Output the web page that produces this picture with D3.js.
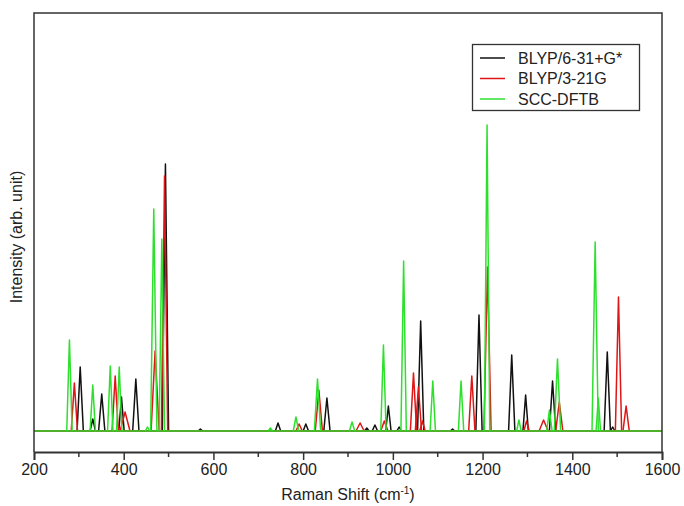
<!DOCTYPE html>
<head>
    <title>Raman spectra</title>
    <style>
        body {
            margin: 0;
            background: #fff;
        }

        text {
            font-family: 'Liberation Sans', Arial, sans-serif;
            fill: #222;
        }

        .frame {
            fill: none;
            stroke: #333;
            stroke-width: 1.5px;
        }

        .peak,
        .base {
            fill: none;
            stroke-width: 1.5px;
            stroke-linejoin: round;
        }
    </style>
    <script src="https://d3js.org/d3.v7.min.js"></script>
</head>

<body>
    <script type="text/javascript">
        "use strict";
        // peaks: [shift cm-1, intensity, half width cm-1]
        const blypLarge = [
            [303, 64, 7], [331, 12, 6], [351, 37, 7], [395, 34, 6], [427, 52, 7],
            [493, 267, 7], [571, 2, 5], [744, 8, 6], [806, 7, 6], [853, 33, 7],
            [942, 3, 5], [960, 6, 6], [990, 25, 6], [1014, 4, 5], [1062, 110, 7],
            [1133, 2, 5], [1192, 116, 7], [1265, 76, 7], [1296, 36, 6],
            [1356, 50, 7], [1478, 79, 7], [1490, 4, 5]
        ];
        const blypSmall = [
            [290, 48, 7], [381, 55, 7], [403, 19, 11], [470, 80, 9], [491, 255, 7],
            [791, 7, 7], [835, 41, 8], [927, 8, 9], [981, 10, 8], [1046, 58, 7],
            [1057, 44, 7], [1066, 10, 6], [1176, 55, 7], [1211, 164, 8],
            [1298, 10, 6], [1336, 11, 10], [1371, 29, 8], [1503, 134, 7], [1520, 25, 7]
        ];
        const sccDftb = [
            [279, 91, 6], [331, 46, 6], [370, 65, 6], [390, 64, 6], [453, 4, 5],
            [467, 222, 7], [485, 192, 6], [727, 3, 5], [784, 14, 6], [832, 52, 7],
            [909, 9, 6], [979, 86, 6], [1024, 170, 6], [1089, 50, 6], [1152, 50, 6],
            [1210, 306, 6], [1281, 11, 5], [1349, 21, 6], [1367, 72, 7],
            [1451, 189, 7], [1458, 33, 5]
        ];
        const seriesNames = ["BLYP/6-31+G*", "BLYP/3-21G", "SCC-DFTB"];
        const seriesColors = ["#111111", "#e01515", "#2ee02e"];
        const xTicks = [200, 400, 600, 800, 1000, 1200, 1400, 1600];
        const xMinorTicks = [300, 500, 700, 900, 1100, 1300, 1500];

        const width = 684, height = 506;
        const plot = { left: 34, right: 662, top: 13, bottom: 452 };

        const x = d3.scaleLinear().domain([200, 1600]).range([plot.left, plot.right]);
        const y = d3.scaleLinear().domain([-21, 418]).range([plot.bottom, plot.top]);

        const svg = d3.select("body").append("svg")
            .attr("width", width)
            .attr("height", height);

        const line = d3.line()
            .x(function (d) { return x(d[0]); })
            .y(function (d) { return y(d[1]); });

        [blypLarge, blypSmall, sccDftb].forEach(function (peaks, i) {
            var g = svg.append("g").style("stroke", seriesColors[i]);
            g.append("path")
                .attr("class", "base")
                .attr("d", line([[200, 0], [1600, 0]]));
            g.selectAll(".peak")
                .data(peaks)
                .enter().append("path")
                .attr("class", "peak")
                .attr("d", function (d) {
                    return line([[d[0] - d[2], 0], [d[0], d[1]], [d[0] + d[2], 0]]);
                });
        });

        // frame: left, top, right
        svg.append("path")
            .attr("class", "frame")
            .attr("d", "M" + plot.left + "," + plot.bottom + "V" + plot.top + "H" + plot.right + "V" + plot.bottom);

        var xAxis = svg.append("g")
            .attr("transform", "translate(0," + plot.bottom + ")")
            .call(d3.axisBottom(x).tickValues(xTicks).tickFormat(d3.format("d"))
                .tickSize(8).tickPadding(4));
        xAxis.select(".domain").attr("stroke", "#333").attr("stroke-width", 1.8);
        xAxis.selectAll(".tick line").attr("stroke", "#333").attr("stroke-width", 1.5);
        xAxis.selectAll(".tick text")
            .style("font-size", "16px")
            .attr("fill", "#222");

        svg.append("g")
            .selectAll("line")
            .data(xMinorTicks)
            .enter().append("line")
            .attr("x1", function (d) { return x(d); })
            .attr("x2", function (d) { return x(d); })
            .attr("y1", plot.bottom)
            .attr("y2", plot.bottom + 5)
            .attr("stroke", "#333")
            .attr("stroke-width", 1.5);

        var xLabel = svg.append("text")
            .attr("x", (plot.left + plot.right) / 2)
            .attr("y", 500)
            .attr("text-anchor", "middle")
            .style("font-size", "16px");
        xLabel.append("tspan").text("Raman Shift (cm");
        xLabel.append("tspan").attr("dy", -6).style("font-size", "10px").text("-1");
        xLabel.append("tspan").attr("dy", 6).text(")");

        svg.append("text")
            .attr("transform", "translate(22,237) rotate(-90)")
            .attr("text-anchor", "middle")
            .style("font-size", "16px")
            .text("Intensity (arb. unit)");

        // legend
        var legend = svg.append("g");
        legend.append("rect")
            .attr("x", 472.5)
            .attr("y", 44.5)
            .attr("width", 167)
            .attr("height", 66)
            .attr("fill", "#fff")
            .attr("stroke", "#333")
            .attr("stroke-width", 1.3);
        seriesNames.forEach(function (name, i) {
            var ly = 58 + i * 20.5;
            legend.append("line")
                .attr("x1", 480).attr("x2", 505)
                .attr("y1", ly).attr("y2", ly)
                .attr("stroke", seriesColors[i])
                .attr("stroke-width", 1.5);
            legend.append("text")
                .attr("x", 518)
                .attr("y", ly)
                .attr("dy", "0.35em")
                .style("font-size", "16px")
                .text(name);
        });
    </script>
</body>
